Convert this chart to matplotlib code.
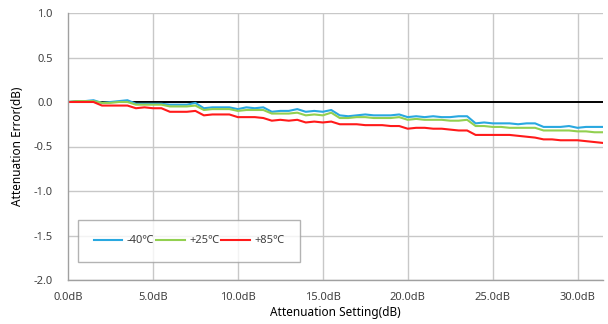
import numpy as np
import matplotlib
matplotlib.use('Agg')
from matplotlib import pyplot as plt

# Ступені атенюатора, 0.0 .. 31.5 дБ з кроком 0.5 дБ
setting = np.arange(64) * 0.5

# Похибка атенюації (дБ) для трьох температур
err_m40 = [0.00, 0.01, 0.01, 0.02, -0.01, 0.00, 0.01, 0.02,
           -0.02, -0.02, -0.02, -0.02, -0.03, -0.03, -0.03, -0.01,
           -0.07, -0.06, -0.06, -0.06, -0.08, -0.06, -0.07, -0.06,
           -0.11, -0.10, -0.10, -0.08, -0.11, -0.10, -0.11, -0.09,
           -0.15, -0.16, -0.15, -0.14, -0.15, -0.15, -0.15, -0.14,
           -0.17, -0.16, -0.17, -0.16, -0.17, -0.17, -0.16, -0.16,
           -0.24, -0.23, -0.24, -0.24, -0.24, -0.25, -0.24, -0.24,
           -0.28, -0.28, -0.28, -0.27, -0.29, -0.28, -0.28, -0.28]
err_p25 = [0.00, 0.01, 0.01, 0.01, -0.01, -0.01, 0.00, 0.00,
           -0.03, -0.03, -0.03, -0.03, -0.05, -0.05, -0.05, -0.04,
           -0.09, -0.08, -0.08, -0.08, -0.10, -0.09, -0.09, -0.09,
           -0.13, -0.13, -0.13, -0.12, -0.15, -0.14, -0.15, -0.12,
           -0.18, -0.18, -0.17, -0.17, -0.18, -0.18, -0.18, -0.17,
           -0.20, -0.19, -0.20, -0.20, -0.20, -0.21, -0.21, -0.20,
           -0.27, -0.27, -0.28, -0.28, -0.29, -0.29, -0.29, -0.29,
           -0.32, -0.32, -0.32, -0.32, -0.33, -0.33, -0.34, -0.34]
err_p85 = [0.00, 0.00, 0.00, 0.00, -0.04, -0.04, -0.04, -0.04,
           -0.07, -0.06, -0.07, -0.07, -0.11, -0.11, -0.11, -0.10,
           -0.15, -0.14, -0.14, -0.14, -0.17, -0.17, -0.17, -0.18,
           -0.21, -0.20, -0.21, -0.20, -0.23, -0.22, -0.23, -0.22,
           -0.25, -0.25, -0.25, -0.26, -0.26, -0.26, -0.27, -0.27,
           -0.30, -0.29, -0.29, -0.30, -0.30, -0.31, -0.32, -0.32,
           -0.37, -0.37, -0.37, -0.37, -0.37, -0.38, -0.39, -0.40,
           -0.42, -0.42, -0.43, -0.43, -0.43, -0.44, -0.45, -0.46]

series_names = ['-40℃', '+25℃', '+85℃']
series_colors = ['#29a8e0', '#92d050', '#ff1a1a']

x_ticks = [0, 5, 10, 15, 20, 25, 30]
x_tick_labels = ['0.0dB', '5.0dB', '10.0dB', '15.0dB', '20.0dB', '25.0dB', '30.0dB']
y_ticks = [-2.0, -1.5, -1.0, -0.5, 0.0, 0.5, 1.0]
y_tick_labels = ['-2.0', '-1.5', '-1.0', '-0.5', '0.0', '0.5', '1.0']

plt.rcParams['font.family'] = ['Noto Sans', 'Noto Sans CJK SC', 'DejaVu Sans']
plt.rcParams['axes.unicode_minus'] = False

fig = plt.figure(figsize=(6.08, 3.24), dpi=100)
ax = fig.add_axes([68 / 608, 1 - 280 / 324, 535 / 608, 267 / 324])

grid_color = '#c8c8c8'
for y in y_ticks:
	if y != 0.0:
		ax.axhline(y, color=grid_color, lw=1.0, zorder=0)
for x in x_ticks[1:]:
	ax.axvline(x, color=grid_color, lw=1.0, zorder=0)

# Нульова лінія
ax.axhline(0.0, color='black', lw=1.4, zorder=1)

for data, name, color in zip([err_m40, err_p25, err_p85], series_names, series_colors):
	ax.plot(setting, data, color=color, lw=1.5, label=name, zorder=2)

ax.set_xlim(0, 31.5)
ax.set_ylim(-2.0, 1.0)
ax.set_xticks(x_ticks)
ax.set_xticklabels(x_tick_labels)
ax.set_yticks(y_ticks)
ax.set_yticklabels(y_tick_labels)
ax.tick_params(axis='both', length=0, labelsize=8, colors='#404040')
ax.tick_params(axis='x', pad=9)
ax.tick_params(axis='y', pad=11)

for side in ['top', 'right']:
	ax.spines[side].set_visible(False)
for side in ['left', 'bottom']:
	ax.spines[side].set_color('#a0a0a0')
	ax.spines[side].set_linewidth(1.0)

ax.set_xlabel('Attenuation Setting(dB)', fontsize=8.5, fontweight='bold', labelpad=2)
ax.set_ylabel('Attenuation Error(dB)', fontsize=8.5, fontweight='bold', labelpad=7)

leg = ax.legend(loc='lower left', bbox_to_anchor=(10 / 535, 18 / 267, 222 / 535, 44 / 267),
	mode='expand', ncol=3, fontsize=8, frameon=True, fancybox=False,
	borderpad=1.4, handlelength=2.6, handletextpad=0.4, columnspacing=1.0, borderaxespad=0)
leg.get_frame().set_edgecolor('#a0a0a0')
leg.get_frame().set_linewidth(1.0)
for t in leg.get_texts():
	t.set_color('#404040')

fig.savefig('out.png', dpi=100)
